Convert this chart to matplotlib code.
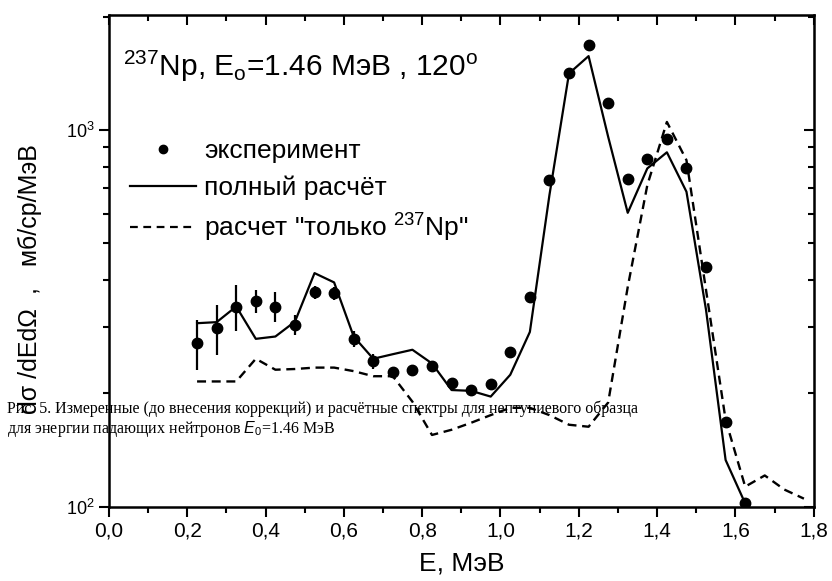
import matplotlib
matplotlib.use('Agg')
import matplotlib.pyplot as plt
from matplotlib.ticker import FixedLocator, LogLocator, NullFormatter
from matplotlib.lines import Line2D

plt.rcParams['font.family'] = ['Liberation Sans', 'DejaVu Sans']
plt.rcParams['mathtext.fontset'] = 'custom'
plt.rcParams['mathtext.rm'] = 'Liberation Sans'
plt.rcParams['mathtext.it'] = 'Liberation Sans:italic'

# experiment (energy, MeV ; cross section, mb/sr/MeV)
e_exp = [0.225, 0.275, 0.325, 0.375, 0.425, 0.475, 0.525, 0.575, 0.625, 0.675,
         0.725, 0.775, 0.825, 0.875, 0.925, 0.975, 1.025, 1.075, 1.125, 1.175,
         1.225, 1.275, 1.325, 1.375, 1.425, 1.475, 1.525, 1.575, 1.625]
y_exp = [272, 298, 340, 352, 340, 304, 371, 369, 279, 243,
         228, 231, 236, 213, 204, 212, 258, 360, 736, 1414,
         1681, 1178, 741, 838, 945, 791, 434, 168, 102.5]
err_exp = [41, 45, 48, 25, 31, 19, 15, 15, 13, 11,
           0, 0, 0, 0, 0, 0, 0, 0, 0, 0,
           0, 0, 0, 0, 0, 0, 0, 4, 0]

# full calculation
e_full = [0.225, 0.275, 0.325, 0.375, 0.425, 0.475, 0.525, 0.575, 0.625, 0.675,
          0.725, 0.775, 0.825, 0.875, 0.925, 0.975, 1.025, 1.075, 1.125, 1.175,
          1.225, 1.275, 1.325, 1.375, 1.425, 1.475, 1.525, 1.575, 1.625]
y_full = [307, 309, 340, 279, 283, 310, 417, 394, 283, 247,
          254, 261, 240, 204, 203, 196, 224, 291, 672, 1414,
          1572, 960, 603, 791, 873, 686, 333, 133, 102]

# calculation "only 237Np"
e_np = [0.225, 0.275, 0.325, 0.375, 0.425, 0.475, 0.525, 0.575, 0.625, 0.675,
        0.725, 0.775, 0.825, 0.875, 0.925, 0.975, 1.025, 1.075, 1.125, 1.175,
        1.225, 1.275, 1.325, 1.375, 1.425, 1.475, 1.525, 1.575, 1.625, 1.675,
        1.725, 1.775]
y_np = [215, 215, 215, 247, 231, 232, 234, 234, 229, 222,
        222, 190, 155, 160, 167, 175, 183, 183, 175, 165,
        163, 189, 383, 714, 1051, 832, 376, 170, 113, 121,
        111, 105]

xticks = [0.0, 0.2, 0.4, 0.6, 0.8, 1.0, 1.2, 1.4, 1.6, 1.8]
xtick_labels = ['0,0', '0,2', '0,4', '0,6', '0,8', '1,0', '1,2', '1,4', '1,6', '1,8']
xminor = [0.1, 0.3, 0.5, 0.7, 0.9, 1.1, 1.3, 1.5, 1.7]

fig = plt.figure(figsize=(8.32, 5.81), dpi=100)
ax = fig.add_axes([0.131, 0.128, 0.847, 0.846])

ax.errorbar(e_exp, y_exp, yerr=err_exp, fmt='o', color='black', ms=7.5,
            elinewidth=1.6, capsize=0, zorder=3)
ax.plot(e_full, y_full, '-', color='black', lw=1.6)
ax.plot(e_np, y_np, '--', color='black', lw=1.7, dashes=(3.8, 2.4))

ax.set_yscale('log')
ax.set_xlim(0, 1.8)
ax.set_ylim(100, 2020)

ax.xaxis.set_major_locator(FixedLocator(xticks))
ax.set_xticklabels(xtick_labels)
ax.xaxis.set_minor_locator(FixedLocator(xminor))
ax.yaxis.set_major_locator(LogLocator(base=10))
ax.yaxis.set_minor_locator(LogLocator(base=10, subs=range(2, 10)))
ax.yaxis.set_minor_formatter(NullFormatter())

for s in ax.spines.values():
    s.set_linewidth(1.8)
ax.tick_params(which='both', direction='out', width=1.5, labelsize=15)
ax.tick_params(which='major', length=7)
ax.tick_params(which='minor', length=4)
ax.tick_params(axis='y', labelsize=13)

# mirrored ticks on top and right point inward
ax2 = ax.secondary_xaxis('top')
ax2.xaxis.set_major_locator(FixedLocator(xticks))
ax2.xaxis.set_minor_locator(FixedLocator(xminor))
ax2.tick_params(which='both', direction='in', width=1.5, labeltop=False)
ax2.tick_params(which='major', length=7)
ax2.tick_params(which='minor', length=4)
ax3 = ax.secondary_yaxis('right')
ax3.tick_params(which='both', direction='in', width=1.5, labelright=False)
ax3.tick_params(which='major', length=7)
ax3.tick_params(which='minor', length=4)
ax3.yaxis.set_minor_formatter(NullFormatter())

ax.set_xlabel('E, МэВ', fontsize=19, labelpad=8)
fig.text(0.036, 0.52, 'dσ /dEdΩ  ,   мб/ср/МэВ', rotation=90, fontsize=18,
         ha='center', va='center')

ax.text(0.02, 0.895, '$^{237}$Np, E$_\\mathrm{o}$=1.46 МэВ , 120$^\\mathrm{o}$',
        transform=ax.transAxes, fontsize=21.5, va='center', ha='left')

handles = [
    Line2D([], [], marker='o', ls='none', color='black', ms=6),
    Line2D([], [], ls='-', color='black', lw=1.6),
    Line2D([], [], ls='--', color='black', lw=1.6, dashes=(3.5, 2.5)),
]
labels = ['эксперимент', 'полный расчёт', 'расчет "только $^{237}$Np"']
ax.legend(handles, labels, loc='upper left', bbox_to_anchor=(0.0, 0.79),
          frameon=False, fontsize=19, handlelength=2.5, handletextpad=0.3,
          labelspacing=0.45, borderaxespad=0.4)

caption = ('Рис. 5. Измеренные (до внесения коррекций) и расчётные спектры для нептуниевого образца\n'
           'для энергии падающих нейтронов $\\it{E}_0$=1.46 МэВ')
fig.text(0.009, 0.278, caption, fontsize=11.5, family='Liberation Serif',
         ha='left', va='center', linespacing=1.15)

fig.savefig('out.png', dpi=100)
